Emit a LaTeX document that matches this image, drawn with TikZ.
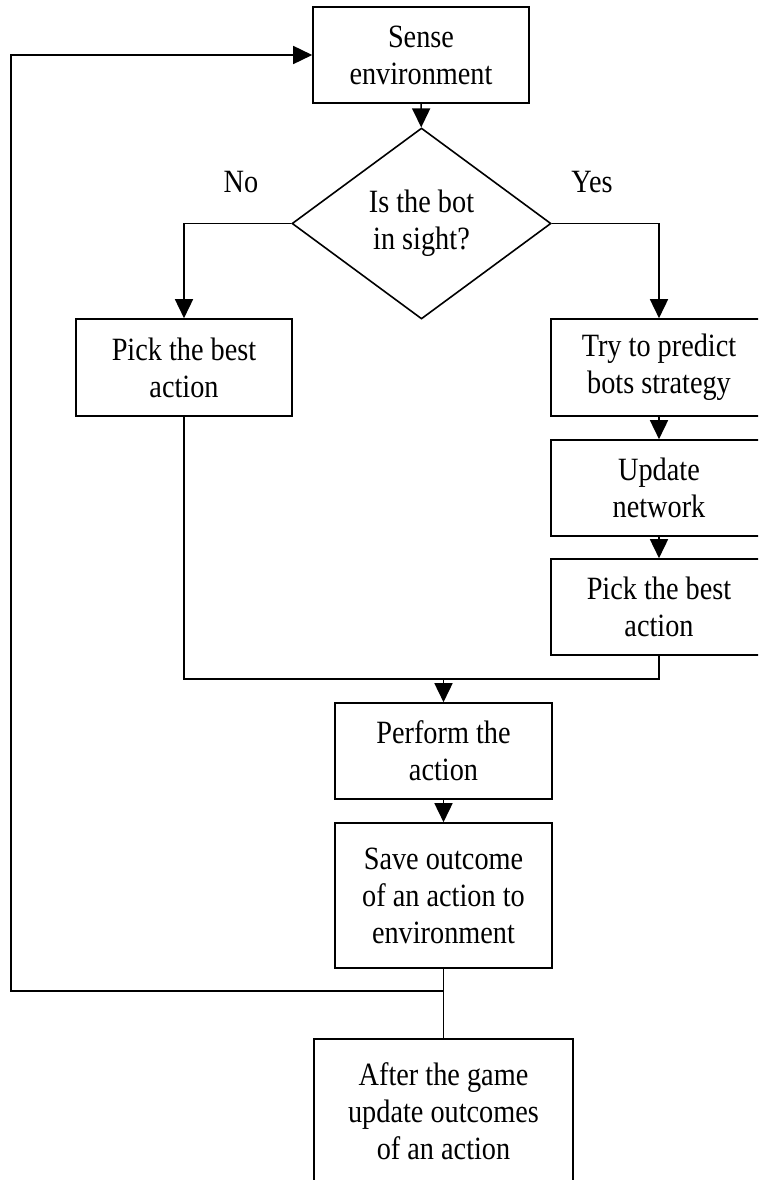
\documentclass[tikz,border=0pt]{standalone}
\usepackage{fontspec}
\setmainfont{Liberation Serif}[FakeStretch=0.87]
\usetikzlibrary{arrows.meta,shapes.geometric}
\begin{document}
\begin{tikzpicture}[x=1pt,y=-1pt,
  line width=1.6pt,
  font=\fontsize{32.5}{37}\selectfont,
  box/.style={draw, rectangle, align=center, inner sep=0pt,
              minimum width=216pt, minimum height=96pt},
  decision/.style={draw, diamond, align=center, inner sep=0pt,
              minimum width=259pt, minimum height=191pt},
  flow/.style={-{Triangle[length=19pt,width=18pt]}},
  branch/.style={inner sep=0pt}]
  \path[use as bounding box] (0,0) rectangle (758,1180);
  \clip (0,0) rectangle (758,1180);

  % process steps
  \node[box] (sense) at (421,55) {Sense\\environment};
  \node[decision] (dec) at (421.5,223.5) {Is the bot\\in sight?};
  \node[box, minimum height=97pt] (pickL) at (184,367.5) {Pick the best\\action};
  \node[box, minimum height=97pt] (pred) at (659,367.5) {Try to predict\\bots strategy};
  \node[box] (upd) at (659,488) {Update\\network};
  \node[box] (pickR) at (659,607) {Pick the best\\action};
  \node[box, minimum width=217pt] (perf) at (443.5,751) {Perform the\\action};
  \node[box, minimum width=217pt, minimum height=145pt] (save) at (443.5,895.5)
       {Save outcome\\of an action to\\environment};
  \node[box, minimum width=259pt, minimum height=145pt] (after) at (443.5,1111.5)
       {After the game\\update outcomes\\of an action};

  % branch labels
  \node[branch] (no) at (241,182) {No};
  \node[branch] (yes) at (592,182) {Yes};

  % junction points
  \coordinate (merge) at (443.5,679);
  \coordinate (split) at (443.5,991);
  \coordinate (loopB) at (11,991);
  \coordinate (loopT) at (11,55);

  % connectors
  \draw[flow] (sense) -- (dec);
  \draw[flow] (dec.west) -| (pickL.north);
  \draw[flow] (dec.east) -| (pred.north);
  \draw[flow] (pred) -- (upd);
  \draw[flow] (upd) -- (pickR);
  \draw (pickL.south) |- (merge) -| (pickR.south);
  \draw[flow] (merge) -- (perf.north);
  \draw[flow] (perf) -- (save);
  \draw (save.south) -- (split) -- (after.north);
  \draw[flow] (split) -- (loopB) -- (loopT) -- (sense.west);
\end{tikzpicture}
\end{document}
